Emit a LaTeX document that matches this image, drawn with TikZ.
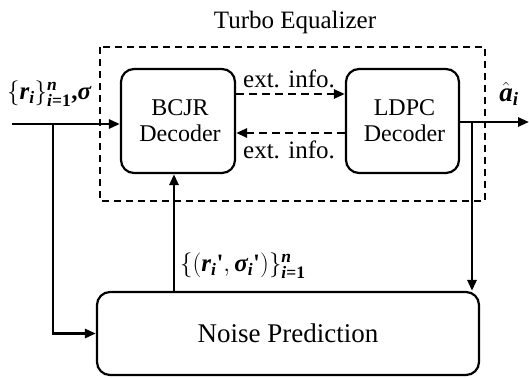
\documentclass[tikz,border=0pt]{standalone}
\usepackage{amsmath}
\usepackage{fontspec}
\setmainfont{Liberation Serif}
\usetikzlibrary{arrows.meta}
\begin{document}
\begin{tikzpicture}[x=1pt,y=-1pt,
  blk/.style={draw,line width=2.2pt,rounded corners=13pt,inner sep=0pt,align=center},
  conn/.style={line width=2.8pt,-{Triangle[length=11pt,width=9pt]}},
  dconn/.style={line width=2.6pt,dash pattern=on 8pt off 5pt,-{Triangle[length=11pt,width=9pt]}},
  lbl/.style={inner sep=0pt,font=\fontsize{25}{27}\selectfont}]
\useasboundingbox (0,0) rectangle (529,377);
% dashed turbo box
\draw[line width=2.2pt,dash pattern=on 7pt off 5pt] (100,47) rectangle (485,201);
\node[lbl] (turbo) at (295,22) {Turbo Equalizer};
% blocks
\node[blk,minimum width=114pt,minimum height=104pt,font=\fontsize{24}{26}\selectfont] (bcjr) at (178,121) {\hspace*{4pt}BCJR\\\hspace*{4pt}Decoder};
\node[blk,minimum width=113pt,minimum height=104pt,font=\fontsize{24}{26}\selectfont] (ldpc) at (402.5,121) {\hspace*{4pt}LDPC\\\hspace*{4pt}Decoder};
\node[blk,minimum width=382pt,minimum height=83pt,font=\fontsize{27}{30}\selectfont] (noise) at (288,333.5) {Noise Prediction};
% coordinates
\coordinate (in) at (12,124);
\coordinate (br1) at (53,124);
\coordinate (up) at (174,292);
\coordinate (out) at (529,122);
\coordinate (br2) at (472,122);
% input
\draw[conn] (in) -- (in -| bcjr.west);
\draw[conn] (br1) |- (noise.west);
% noise -> bcjr
\draw[conn] (up) -- (up |- bcjr.south);
% ldpc output
\draw[conn] (out -| ldpc.east) -- (out);
\draw[conn] (br2) -- (br2 |- noise.north);
% extrinsic info
\draw[dconn] (bcjr.east |- 0,94) -- (ldpc.west |- 0,94);
\draw[dconn] (ldpc.west |- 0,133) -- (bcjr.east |- 0,133);
\node[lbl] (e1) at (289,79) {ext. info.};
\node[lbl] (e2) at (289,150) {ext. info.};
% math labels
\node[lbl,anchor=west,font=\fontsize{25}{27}\selectfont\bfseries] (rin) at (7,94) {$\{\textit{r}_{\textit{i}}\}_{\textit{i}\textrm{=1}}^{\textit{n}}$,\textit{σ}};
\node[lbl,font=\fontsize{27}{29}\selectfont\bfseries] (ahat) at (509,94) {$\hat{\textit{a}}_{\textit{i}}$};
\node[lbl,anchor=west,font=\fontsize{25}{27}\selectfont\bfseries] (rs) at (180,266) {$\{(\textit{r}_{\textit{i}}\textrm{\textquotesingle},\textit{σ}_{\textit{i}}\textrm{\textquotesingle})\}_{\textit{i}\textrm{=1}}^{\textit{n}}$};
\end{tikzpicture}
\end{document}
